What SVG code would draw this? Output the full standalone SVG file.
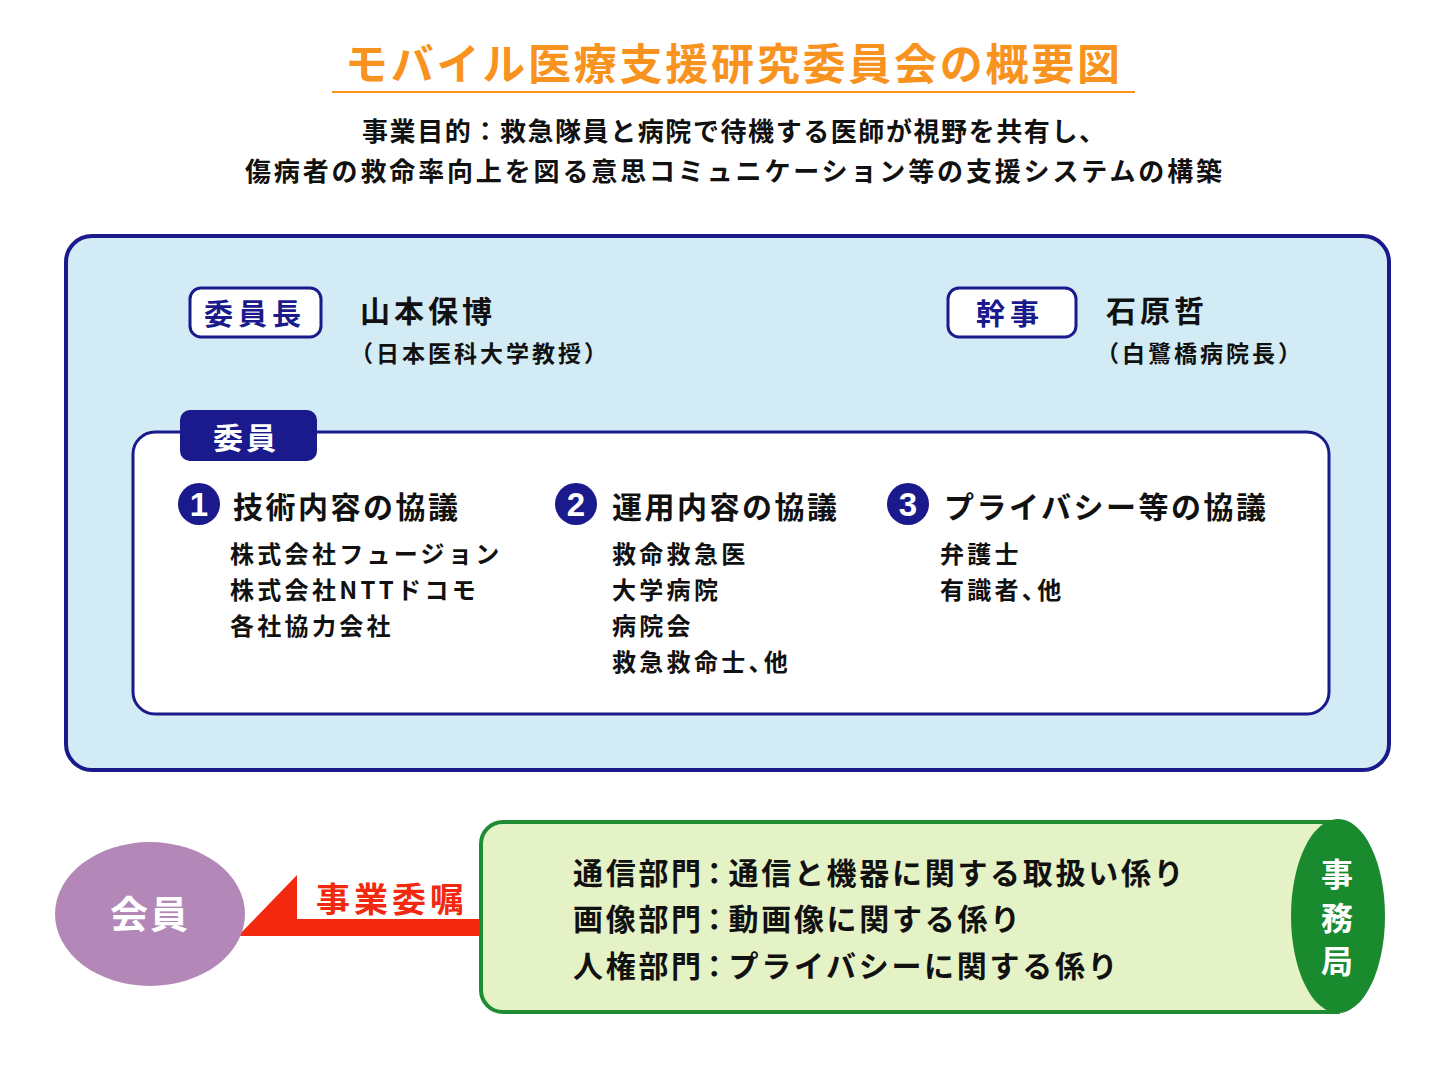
<svg xmlns="http://www.w3.org/2000/svg" width="1448" height="1086" viewBox="0 0 1448 1086">
<style>
text{font-family:"Noto Sans CJK JP","Noto Sans CJK SC",sans-serif;font-weight:700}
.title{fill:#f7931e;font-size:43px}
.sub{fill:#111;font-size:26px}
.name{fill:#111;font-size:30px;letter-spacing:4px}
.aff{fill:#111;font-size:23px;letter-spacing:3px}
.badge{fill:#fff;stroke:#1a1a8c;stroke-width:3}
.btxt{fill:#1a1a8c;font-size:29px;letter-spacing:5px}
.head{fill:#111;font-size:30px;letter-spacing:2.5px}
.item{fill:#111;font-size:24px;letter-spacing:3.3px}
.num{fill:#1a1a8c}
.ntxt{fill:#fff;font-family:"Liberation Sans",Arial,sans-serif;font-size:33px;font-weight:700}
.dept{fill:#111;font-size:30px;letter-spacing:2.7px}
.p{font-feature-settings:"palt"}
</style>
<rect width="1448" height="1086" fill="#fff"/>
<g id="title">
<text class="title" x="345" y="80" textLength="775" lengthAdjust="spacing">モバイル医療支援研究委員会の概要図</text>
<line x1="332" y1="92" x2="1135" y2="92" stroke="#f7931e" stroke-width="2"/>
<text class="sub" x="362" y="141" textLength="743" lengthAdjust="spacing">事業目的：救急隊員と病院で待機する医師が視野を共有し、</text>
<text class="sub" x="245" y="181" textLength="977" lengthAdjust="spacing">傷病者の救命率向上を図る意思コミュニケーション等の支援システムの構築</text>
</g>
<g id="committee">
<rect x="66" y="236" width="1323" height="534" rx="26" fill="#d3ebf5" stroke="#1a1a8c" stroke-width="4"/>
</g>
<g id="chair">
<rect class="badge" x="190" y="288" width="131" height="49" rx="11"/>
<text class="btxt" x="204" y="325">委員長</text>
<text class="name" x="360" y="322">山本保博</text>
<text class="aff" x="350" y="362">（日本医科大学教授）</text>
</g>
<g id="secretary">
<rect class="badge" x="948" y="288" width="128" height="49" rx="11"/>
<text class="btxt" x="976" y="325">幹事</text>
<text class="name" x="1106" y="322">石原哲</text>
<text class="aff" x="1096" y="362">（白鷺橋病院長）</text>
</g>
<g id="members">
<rect x="133" y="432" width="1196" height="282" rx="22" fill="#fff" stroke="#1a1a8c" stroke-width="3"/>
<rect x="180" y="410" width="137" height="51" rx="10" fill="#1a1a8c"/>
<text x="213" y="449" fill="#fff" font-size="30" letter-spacing="3">委員</text>
</g>
<g id="topic1">
<circle class="num" cx="199" cy="504" r="21"/>
<text class="ntxt" x="199" y="516" text-anchor="middle">1</text>
<text class="head" x="233" y="518">技術内容の協議</text>
<text class="item" x="230" y="563">株式会社フュージョン</text>
<text class="item" x="230" y="599">株式会社NTTドコモ</text>
<text class="item" x="230" y="635">各社協力会社</text>
</g>
<g id="topic2">
<circle class="num" cx="576" cy="504" r="21"/>
<text class="ntxt" x="576" y="516" text-anchor="middle">2</text>
<text class="head" x="612" y="518">運用内容の協議</text>
<text class="item" x="612" y="563">救命救急医</text>
<text class="item" x="612" y="599">大学病院</text>
<text class="item" x="612" y="635">病院会</text>
<text class="item" x="612" y="671">救急救命士<tspan class="p">、</tspan>他</text>
</g>
<g id="topic3">
<circle class="num" cx="908" cy="504" r="21"/>
<text class="ntxt" x="908" y="516" text-anchor="middle">3</text>
<text class="head" x="944" y="518">プライバシー等の協議</text>
<text class="item" x="940" y="563">弁護士</text>
<text class="item" x="940" y="599">有識者<tspan class="p">、</tspan>他</text>
</g>
<g id="connectors">
<polygon points="238,936 297,875 297,919 482,919 482,936" fill="#f2290e"/>
<text x="316" y="912" fill="#f2290e" font-size="34" letter-spacing="4">事業委嘱</text>
</g>
<g id="kaiin">
<ellipse cx="150" cy="914" rx="95" ry="72" fill="#b388b8"/>
<text x="150" y="928" fill="#fff" font-size="38" text-anchor="middle" letter-spacing="2">会員</text>
</g>
<g id="jimukyoku">
<path d="M1338,822 H503 A22,22 0 0 0 481,844 V990 A22,22 0 0 0 503,1012 H1338 Z" fill="#e4f2c6" stroke="#1e8c32" stroke-width="4"/>
<ellipse cx="1338" cy="916" rx="47" ry="97" fill="#1a8a2e"/>
<text class="dept" x="573" y="884">通信部門<tspan class="p" dx="3">：</tspan><tspan dx="4">通信と機器に関する取扱い係り</tspan></text>
<text class="dept" x="573" y="930">画像部門<tspan class="p" dx="3">：</tspan><tspan dx="4">動画像に関する係り</tspan></text>
<text class="dept" x="573" y="977">人権部門<tspan class="p" dx="3">：</tspan><tspan dx="4">プライバシーに関する係り</tspan></text>
<text x="1337" y="886" fill="#fff" font-size="32" text-anchor="middle">事</text>
<text x="1337" y="930" fill="#fff" font-size="32" text-anchor="middle">務</text>
<text x="1337" y="973" fill="#fff" font-size="32" text-anchor="middle">局</text>
</g>
</svg>
